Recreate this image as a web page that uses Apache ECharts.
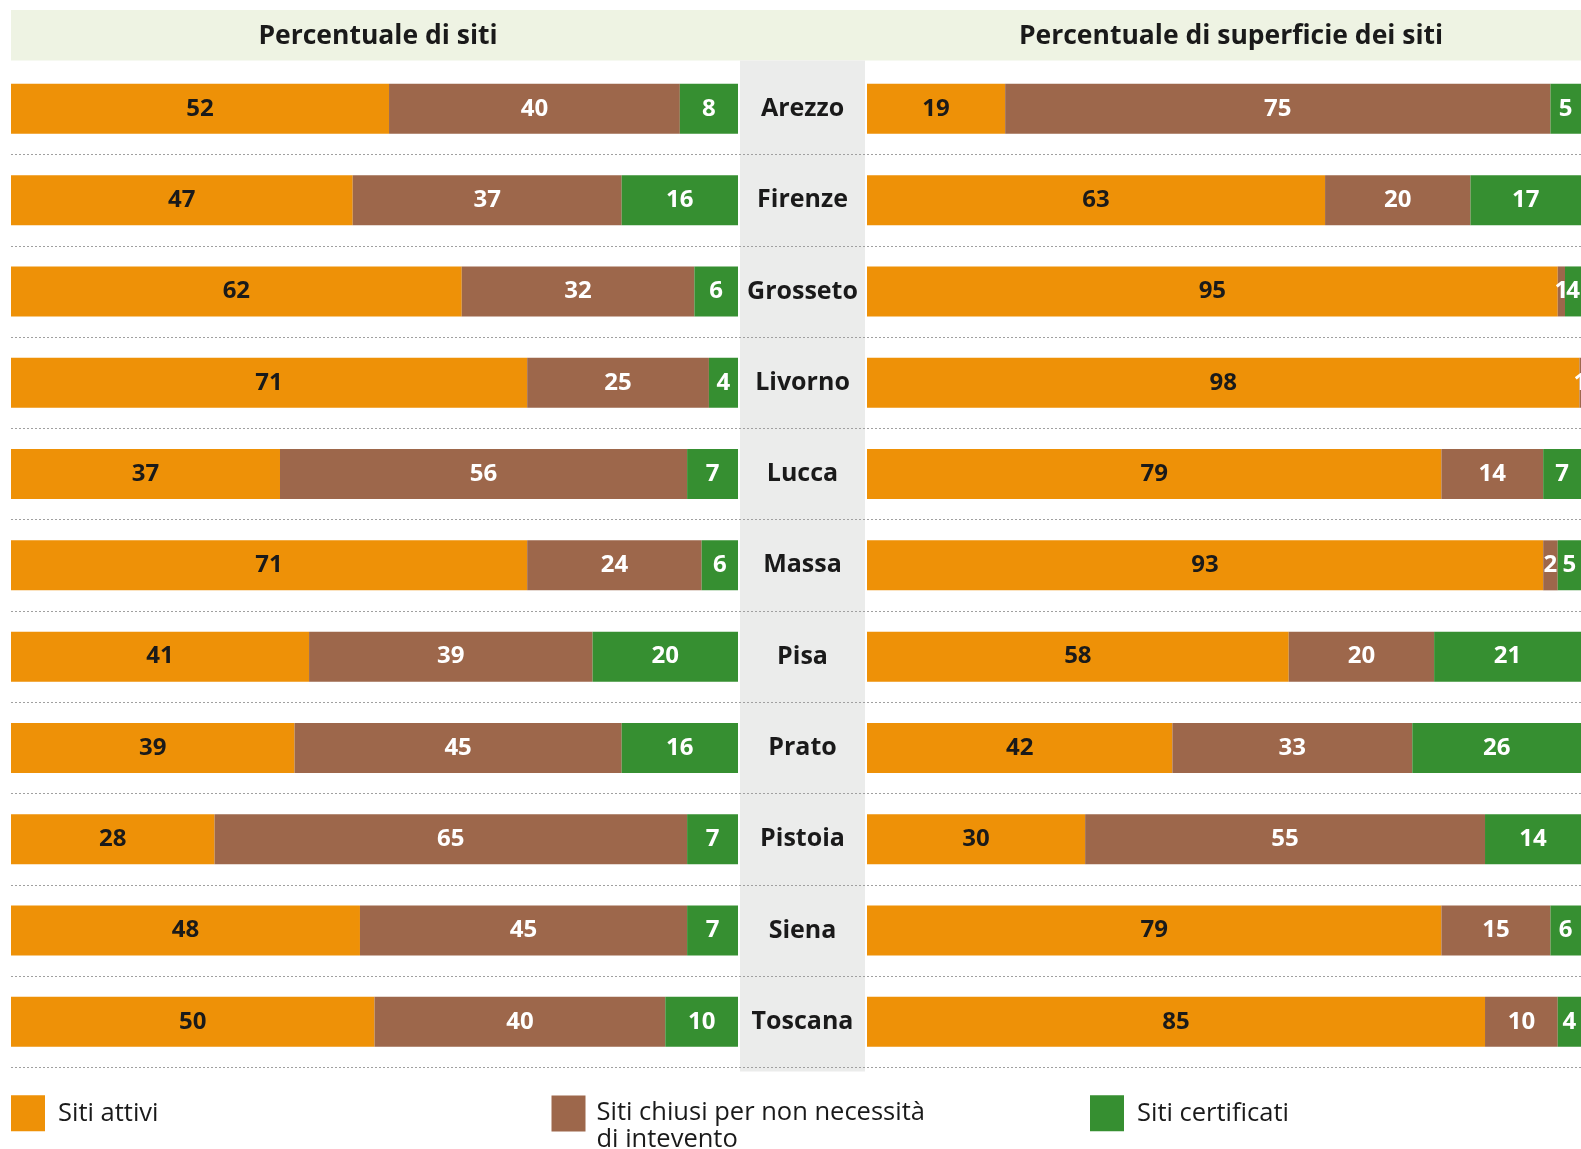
<!DOCTYPE html>
<html>
<head>
<meta charset="utf-8">
<script src="https://cdn.jsdelivr.net/npm/echarts@6/dist/echarts.min.js"></script>
<style>html,body{margin:0;padding:0;background:#fff}#c{width:1581px;height:1149px}</style>
</head>
<body>
<div id="c"></div>
<script>
const categories = ['Arezzo','Firenze','Grosseto','Livorno','Lucca','Massa','Pisa','Prato','Pistoia','Siena','Toscana'];
const seriesNames = ['Siti attivi', 'Siti chiusi per non necessità\ndi intevento', 'Siti certificati'];
const panelTitles = ['Percentuale di siti', 'Percentuale di superficie dei siti'];
// Percentuale di siti
const sitiAttivi     = [52,47,62,71,37,71,41,39,28,48,50];
const sitiChiusi     = [40,37,32,25,56,24,39,45,65,45,40];
const sitiCertificati= [ 8,16, 6, 4, 7, 6,20,16, 7, 7,10];
// Percentuale di superficie dei siti
const supAttivi      = [19,63,95,98,79,93,58,42,30,79,85];
const supChiusi      = [75,20, 1, 1,14, 2,20,33,55,15,10];
const supCertificati = [ 5,17, 4, 1, 7, 5,21,26,14, 6, 4];

const colors = ['#EE9107', '#9D674B', '#368F31'];
const labelColors = ['#1a1a1a', '#ffffff', '#ffffff'];
const FONT = '"Open Sans", sans-serif';

const chart = echarts.init(document.getElementById('c'), null, {renderer: 'canvas'});

const gridTop = 63.2, gridH = 1004.3;
function mkSeries(name, data, idx, axisIdx, stack) {
  return {
    name: name, type: 'bar', stack: stack,
    xAxisIndex: axisIdx, yAxisIndex: axisIdx,
    data: data, barWidth: 50,
    itemStyle: {color: colors[idx]},
    label: {show: true, position: 'inside', color: labelColors[idx],
      fontFamily: FONT, fontWeight: 'bold', fontSize: 24},
    emphasis: {disabled: true},
    animation: false
  };
}
const leftData = [sitiAttivi, sitiChiusi, sitiCertificati];
const rightData = [supAttivi, supChiusi, supCertificati];
const series = [];
seriesNames.forEach((n, i) => series.push(mkSeries(n, leftData[i], i, 0, 'L')));
seriesNames.forEach((n, i) => series.push(mkSeries(n, rightData[i], i, 1, 'R')));

const hiddenY = {
  type: 'category', data: categories, inverse: true,
  axisLine: {show: false}, axisTick: {show: false}, axisLabel: {show: false}, splitLine: {show: false}
};

// legend swatch: a 34x36 square placed at the top of a taller item box (two-line label)
const tallIcon = 'path://M0,0H34V36H0Z M0,61L34,61';
const legendCfg = [
  {left: 11,    top: 1094,   icon: 'rect',   h: 36, pad: [0, 0, 12, 8]},
  {left: 551.5, top: 1095.6, icon: tallIcon, h: 61, pad: [0, 0, 0, 6]},
  {left: 1090,  top: 1094,   icon: 'rect',   h: 36, pad: [0, 0, 12, 8]}
];

const option = {
  backgroundColor: '#ffffff',
  animation: false,
  title: [
    {text: panelTitles[0], left: 373, top: 18, textAlign: 'center',
      textStyle: {fontFamily: FONT, fontWeight: 'bold', fontSize: 26.5, color: '#1a1a1a'}},
    {text: panelTitles[1], left: 1226, top: 18, textAlign: 'center',
      textStyle: {fontFamily: FONT, fontWeight: 'bold', fontSize: 26.5, color: '#1a1a1a'}}
  ],
  graphic: [
    {type: 'rect', z: -10, shape: {x: 11, y: 10, width: 1570, height: 50.5}, style: {fill: '#EEF3E3'}},
    {type: 'rect', z: -10, shape: {x: 740, y: 60.5, width: 125, height: 1011}, style: {fill: '#EBECEB'}}
  ],
  legend: legendCfg.map((c, i) => ({
    data: [{name: seriesNames[i], icon: c.icon}],
    left: c.left, top: c.top, padding: 0,
    itemWidth: 34, itemHeight: c.h, itemStyle: {borderWidth: 0},
    selectedMode: false,
    textStyle: {fontFamily: FONT, fontSize: 25.5, color: '#1a1a1a', lineHeight: 26.5,
      padding: c.pad}
  })),
  grid: [
    {left: 11, width: 727, top: gridTop, height: gridH},
    {left: 867, right: 0, top: gridTop, height: gridH},
    {left: 11, right: 0, top: gridTop, height: gridH}
  ],
  xAxis: [
    {type: 'value', gridIndex: 0, min: 0, max: 100, show: false},
    {type: 'value', gridIndex: 1, min: 0, max: 98.2, show: false},
    {type: 'value', gridIndex: 2, min: 0, max: 1, show: false}
  ],
  yAxis: [
    Object.assign({gridIndex: 0}, hiddenY),
    {
      gridIndex: 1, type: 'category', data: categories, inverse: true,
      axisLine: {show: false}, axisTick: {show: false}, splitLine: {show: false},
      axisLabel: {show: true, align: 'center', margin: 64.5, fontFamily: FONT,
        fontWeight: 'bold', fontSize: 25, color: '#1a1a1a'}
    },
    {
      gridIndex: 2, type: 'category', data: categories, inverse: true,
      axisLine: {show: false}, axisTick: {show: false}, axisLabel: {show: false},
      splitLine: {show: true, interval: (i) => i > 0,
        lineStyle: {color: '#A0A0A0', width: 1, type: [2, 2]}}
    }
  ],
  series: series
};
chart.setOption(option);
</script>
</body>
</html>
